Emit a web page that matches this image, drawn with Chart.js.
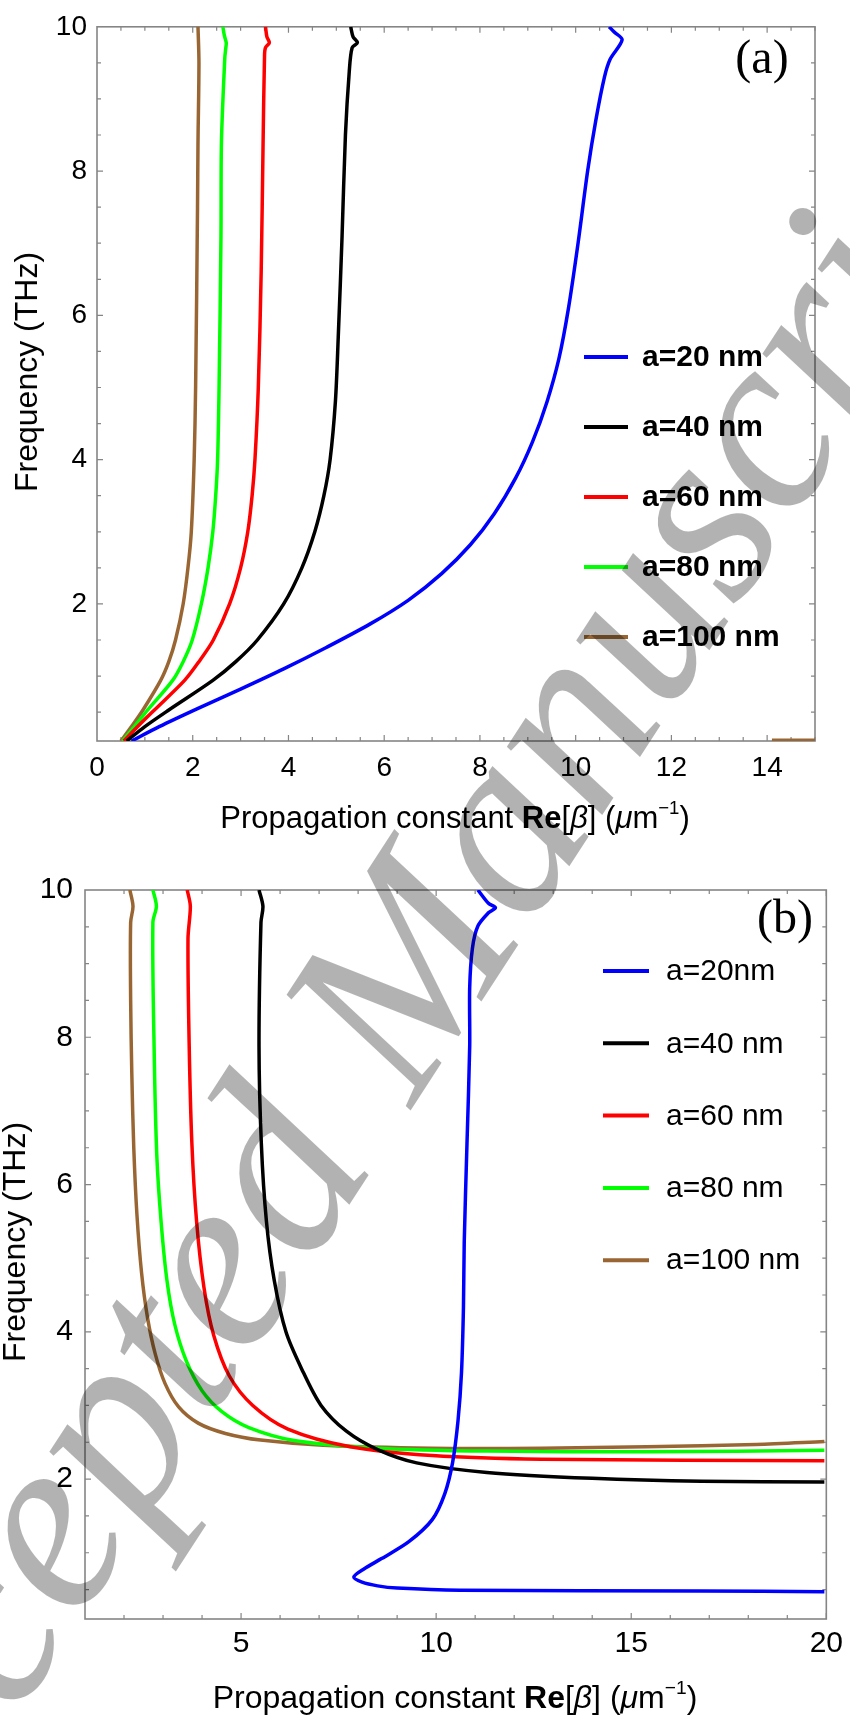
<!DOCTYPE html>
<html>
<head>
<meta charset="utf-8">
<script src="https://cdn.jsdelivr.net/npm/chart.js@4.4.1/dist/chart.umd.min.js"></script>
<style>
  body { margin: 0; background: #fff; overflow: hidden; }
  #wrap { position: relative; width: 850px; height: 1718px; overflow: hidden; }
  canvas { position: absolute; left: 0; }
  #cA { top: 0; }
  #cB { top: 860px; }
  .xtitle, .ytitle { position: absolute; font-family: "Liberation Sans", Arial, sans-serif;
            white-space: nowrap; color: #000; line-height: 1; }
  .xtitle { left: 455px; transform: translate(-50%, -50%); }
  .ytitle { font-size: 32px; transform: translate(-50%, -50%) rotate(-90deg); }
  .xtitle sup { font-size: 0.6em; vertical-align: 0.75em; line-height: 0; }
  .tag { position: absolute; transform: translate(-50%, -50%); line-height: 1;
         font: 48px "Liberation Serif", "Times New Roman", serif; color: #000; }
  #wm { position: absolute; left: -310px; top: 1829px; transform-origin: 0 0; transform: rotate(-57deg);
        font: italic 255px "Liberation Serif", "Times New Roman", serif; line-height: 1;
        color: rgba(0, 0, 0, 0.3); white-space: nowrap; pointer-events: none; }
</style>
</head>
<body>
<div id="wrap">
  <canvas id="cA" width="850" height="860"></canvas>
  <canvas id="cB" width="850" height="858"></canvas>
  <div class="ytitle" style="left:26px;top:372px">Frequency (THz)</div>
  <div class="ytitle" style="left:14px;top:1242px">Frequency (THz)</div>
  <div class="xtitle" style="top:817px;font-size:31px">Propagation constant <b>Re</b>[<i>β</i>] (<i>μ</i>m<sup>−1</sup>)</div>
  <div class="xtitle" style="top:1697px;font-size:32px">Propagation constant <b>Re</b>[<i>β</i>] (<i>μ</i>m<sup>−1</sup>)</div>
  <div class="tag" style="left:762px;top:56px">(a)</div>
  <div class="tag" style="left:785px;top:916px">(b)</div>
  <div id="wm">Accepted Manuscript</div>
</div>
<script>
// ---- panel (a): Re(beta) vs frequency ----
const labelsA = ['a=20 nm', 'a=40 nm', 'a=60 nm', 'a=80 nm', 'a=100 nm'];
const colors = ['#0000ff', '#000000', '#ff0000', '#00ff00', '#996633'];

const fA20 = [0.1, 0.3, 0.55, 0.82, 1.1, 1.4, 1.72, 2.05, 2.42, 2.82, 3.25, 3.75, 4.25, 4.8, 5.4, 6.1, 7.0, 8.0, 8.7, 9.3, 9.55, 9.82, 9.93, 10];
const bA20 = [0.72, 1.3, 2.1, 3.0, 3.9, 4.8, 5.7, 6.5, 7.2, 7.8, 8.3, 8.75, 9.1, 9.4, 9.65, 9.85, 10.05, 10.25, 10.42, 10.6, 10.72, 10.97, 10.8, 10.7];

const fA40 = [0.1, 0.3, 0.53, 0.94, 1.2, 1.5, 2.0, 2.5, 3.0, 3.5, 4.0, 4.8, 5.7, 7.1, 8.5, 9.38, 9.71, 9.78, 9.86, 10];
const bA40 = [0.62, 1.0, 1.5, 2.42, 2.9, 3.35, 3.9, 4.28, 4.55, 4.74, 4.87, 4.98, 5.04, 5.12, 5.19, 5.27, 5.33, 5.44, 5.35, 5.30];

const fA60 = [0.1, 0.3, 0.53, 0.94, 1.2, 1.5, 2.0, 2.5, 3.0, 3.5, 4.0, 5.0, 6.6, 8.4, 9.6, 9.71, 9.78, 9.86, 10];
const bA60 = [0.56, 0.85, 1.2, 1.83, 2.13, 2.43, 2.77, 3.0, 3.15, 3.24, 3.3, 3.37, 3.43, 3.47, 3.50, 3.52, 3.60, 3.55, 3.52];

const fA80 = [0.1, 0.3, 0.53, 0.94, 1.2, 1.5, 2.0, 2.5, 3.0, 3.5, 4.0, 5.0, 7.1, 8.4, 9.57, 9.7, 9.78, 9.88, 10];
const bA80 = [0.53, 0.78, 1.06, 1.58, 1.8, 1.99, 2.18, 2.32, 2.42, 2.48, 2.52, 2.55, 2.59, 2.60, 2.67, 2.69, 2.70, 2.66, 2.63];

const fA100 = [0.1, 0.3, 0.53, 0.94, 1.2, 1.5, 2.0, 2.5, 3.0, 4.0, 5.0, 7.5, 8.4, 9.5, 10];
const bA100 = [0.5, 0.72, 0.96, 1.33, 1.5, 1.64, 1.8, 1.9, 1.97, 2.03, 2.06, 2.1, 2.11, 2.13, 2.11];
// short brown branch lying on the bottom axis near the right edge
const fA100b = [0.11, 0.11];
const bA100b = [14.1, 15.0];

// ---- panel (b) ----
const labelsB = ['a=20nm', 'a=40 nm', 'a=60 nm', 'a=80 nm', 'a=100 nm'];

const fB20 = [10, 9.82, 9.76, 9.69, 9.51, 9.21, 8.68, 7.88, 6.55, 5.22, 4.34, 3.45, 2.79, 2.22, 1.8, 1.45, 1.15, 0.92, 0.78, 0.67, 0.6, 0.55, 0.52, 0.49, 0.48, 0.47];
const bB20 = [11.07, 11.34, 11.52, 11.34, 11.07, 10.93, 10.86, 10.86, 10.79, 10.72, 10.70, 10.65, 10.56, 10.42, 10.22, 9.9, 9.3, 8.6, 8.15, 7.89, 8.1, 8.5, 9.0, 10.6, 16.8, 19.95];

const fB40 = [10, 9.78, 9.56, 7.88, 6.55, 5.5, 4.7, 4.0, 3.5, 3.0, 2.65, 2.4, 2.22, 2.09, 2.01, 1.97, 1.96];
const bB40 = [5.46, 5.56, 5.51, 5.46, 5.52, 5.65, 5.85, 6.15, 6.55, 7.05, 7.7, 8.5, 9.5, 11.3, 14.0, 16.8, 19.95];

const fB60 = [10, 9.78, 9.34, 7.9, 6.55, 5.5, 4.6, 3.95, 3.4, 3.0, 2.68, 2.44, 2.32, 2.27, 2.25];
const bB60 = [3.62, 3.70, 3.64, 3.67, 3.74, 3.86, 4.05, 4.3, 4.7, 5.3, 6.2, 7.8, 9.9, 12.7, 19.95];

const fB80 = [10, 9.78, 9.56, 7.9, 6.4, 5.5, 4.7, 4.1, 3.6, 3.2, 2.92, 2.7, 2.52, 2.42, 2.38, 2.37, 2.39];
const bB80 = [2.74, 2.83, 2.74, 2.77, 2.84, 2.95, 3.1, 3.3, 3.6, 4.0, 4.5, 5.2, 6.4, 8.5, 11.3, 15.4, 19.95];

const fB100 = [10, 9.78, 9.56, 8.5, 7.5, 6.5, 5.6, 4.8, 4.2, 3.7, 3.3, 2.98, 2.76, 2.62, 2.53, 2.46, 2.42, 2.42, 2.44, 2.47, 2.51];
const bB100 = [2.15, 2.23, 2.17, 2.17, 2.2, 2.25, 2.33, 2.45, 2.6, 2.8, 3.05, 3.4, 3.9, 4.6, 5.5, 7.1, 9.9, 12.7, 15.4, 18.2, 19.95];

// ticks
const xTicksA = [0, 2, 4, 6, 8, 10, 12, 14];
const xTicksB = [5, 10, 15, 20];
const yTicks = [2, 4, 6, 8, 10];

const toPts = (b, f) => b.map((v, i) => ({ x: v, y: f[i] }));

function series(label, color, b, f, noLegend) {
  return {
    label: label,
    data: toPts(b, f),
    borderColor: color,
    backgroundColor: color,
    borderWidth: 3.5,
    pointRadius: 0,
    showLine: true,
    tension: 0.3,
    fill: false,
    noLegend: !!noLegend
  };
}

// frame with inward ticks on all four sides
const frameTicks = {
  id: 'frameTicks',
  beforeDatasetsDraw(chart, args, o) {
    const { ctx, chartArea: a, scales: { x, y } } = chart;
    ctx.save();
    ctx.strokeStyle = '#858585';
    ctx.lineWidth = 1.6;
    ctx.strokeRect(a.left, a.top, a.right - a.left, a.bottom - a.top);
    ctx.lineWidth = 1.2;
    ctx.beginPath();
    for (let v = o.xStart; v <= x.max + 1e-9; v += o.xStep) {
      const px = x.getPixelForValue(v);
      const len = o.xMajor.includes(Math.round(v * 100) / 100) ? 6 : 4;
      ctx.moveTo(px, a.bottom); ctx.lineTo(px, a.bottom - len);
      ctx.moveTo(px, a.top); ctx.lineTo(px, a.top + len);
    }
    for (let v = 0.5; v < y.max; v += 0.5) {
      const py = y.getPixelForValue(v);
      const len = yTicks.includes(v) ? 6 : 4;
      ctx.moveTo(a.left, py); ctx.lineTo(a.left + len, py);
      ctx.moveTo(a.right, py); ctx.lineTo(a.right - len, py);
    }
    ctx.stroke();
    ctx.restore();
  }
};

// legend drawn inside the plot area
const insideLegend = {
  id: 'insideLegend',
  afterDatasetsDraw(chart, args, o) {
    const ctx = chart.ctx;
    ctx.save();
    ctx.font = o.font;
    ctx.textBaseline = 'middle';
    ctx.lineWidth = 4;
    chart.data.datasets.filter(d => !d.noLegend).forEach((d, i) => {
      const y = o.top + i * o.step;
      ctx.strokeStyle = d.borderColor;
      ctx.beginPath(); ctx.moveTo(o.x0, y); ctx.lineTo(o.x1, y); ctx.stroke();
      ctx.fillStyle = '#000';
      ctx.fillText(d.label, o.textX, y + 1);
    });
    ctx.restore();
  }
};

function makeChart(id, datasets, p) {
  return new Chart(document.getElementById(id), {
    type: 'scatter',
    data: { datasets: datasets },
    plugins: [frameTicks, insideLegend],
    options: {
      responsive: false,
      animation: false,
      events: [],
      layout: { padding: { left: 0, right: p.padRight, top: p.padTop, bottom: 0 } },
      plugins: {
        legend: { display: false },
        tooltip: { enabled: false },
        frameTicks: { xStart: p.xStart, xStep: p.xStep, xMajor: p.xTicks },
        insideLegend: p.legend
      },
      scales: {
        x: {
          type: 'linear', min: p.xMin, max: p.xMax,
          afterBuildTicks: s => { s.ticks = p.xTicks.map(v => ({ value: v })); },
          afterFit: s => { s.height = p.xH; },
          grid: { display: false, drawTicks: false },
          border: { display: false },
          ticks: { color: '#000', padding: p.xPad, maxRotation: 0, autoSkip: false,
                   font: { family: '"Liberation Sans", Arial, sans-serif', size: p.tickSize } }
        },
        y: {
          type: 'linear', min: 0.1, max: 10,
          afterBuildTicks: s => { s.ticks = yTicks.map(v => ({ value: v })); },
          afterFit: s => { s.width = p.yW; },
          grid: { display: false, drawTicks: false },
          border: { display: false },
          ticks: { color: '#000', padding: p.yPad, autoSkip: false,
                   font: { family: '"Liberation Sans", Arial, sans-serif', size: p.tickSize } }
        }
      }
    }
  });
}

const dsA = [
  series(labelsA[0], colors[0], bA20, fA20),
  series(labelsA[1], colors[1], bA40, fA40),
  series(labelsA[2], colors[2], bA60, fA60),
  series(labelsA[3], colors[3], bA80, fA80),
  series(labelsA[4], colors[4], bA100, fA100),
  series('', colors[4], bA100b, fA100b, true)
];

const dsB = [
  series(labelsB[0], colors[0], bB20, fB20),
  series(labelsB[1], colors[1], bB40, fB40),
  series(labelsB[2], colors[2], bB60, fB60),
  series(labelsB[3], colors[3], bB80, fB80),
  series(labelsB[4], colors[4], bB100, fB100)
];

makeChart('cA', dsA, {
  xMin: 0, xMax: 15, xTicks: xTicksA, xStart: 0.5, xStep: 0.5,
  padRight: 35, padTop: 22, xH: 119, yW: 97, xPad: 10, yPad: 10,
  tickSize: 28,
  legend: { font: 'bold 30px "Liberation Sans", Arial, sans-serif', top: 357, step: 70, x0: 584, x1: 628, textX: 642 }
});

makeChart('cB', dsB, {
  xMin: 1, xMax: 20, xTicks: xTicksB, xStart: 2, xStep: 1,
  padRight: 21, padTop: 13, xH: 99, yW: 85, xPad: 7, yPad: 12,
  tickSize: 30,
  legend: { font: '30px "Liberation Sans", Arial, sans-serif', top: 111, step: 72.3, x0: 603, x1: 649, textX: 666 }
});
</script>
</body>
</html>
